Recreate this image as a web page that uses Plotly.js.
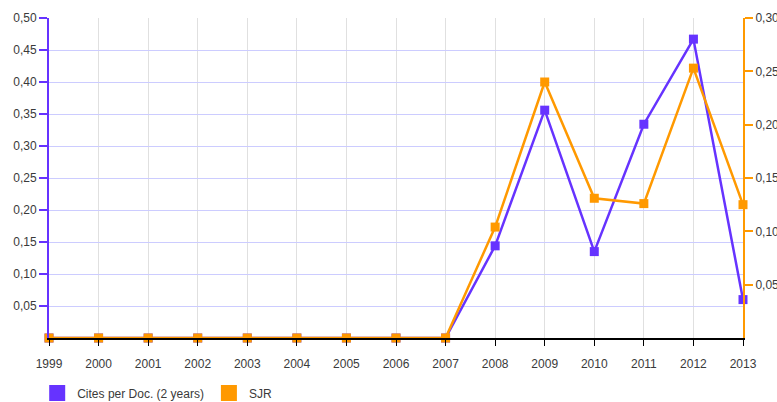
<!DOCTYPE html>
<html><head><meta charset="utf-8">
<script src="https://cdn.plot.ly/plotly-3.0.1.min.js"></script>
<style>body{margin:0;padding:0;background:#fff}#chart{width:777px;height:402px}</style>
</head><body><div id="chart"></div>
<script>
const years = [1999,2000,2001,2002,2003,2004,2005,2006,2007,2008,2009,2010,2011,2012,2013];
const citesPerDoc = [0,0,0,0,0,0,0,0,0,0.144,0.356,0.135,0.334,0.467,0.060];
const sjr = [0,0,0,0,0,0,0,0,0,0.104,0.240,0.131,0.126,0.253,0.125];
const leftTicks = [0.05,0.10,0.15,0.20,0.25,0.30,0.35,0.40,0.45,0.50];
const rightTicks = [0.05,0.10,0.15,0.20,0.25,0.30];
const purple = '#6633ff', orange = '#ff9900';
const fnt = {family:'"Liberation Sans", Arial, sans-serif', size:12, color:'#3a3a3a'};

const data = [
  {x: years, y: citesPerDoc, yaxis:'y', mode:'lines+markers', name:'Cites per Doc. (2 years)',
   line:{color:purple, width:2.5}, marker:{symbol:'square', size:9, color:purple}, showlegend:false, cliponaxis:false},
  {x: years, y: sjr, yaxis:'y2', mode:'lines+markers', name:'SJR',
   line:{color:orange, width:2.5}, marker:{symbol:'square', size:9, color:orange}, showlegend:false, cliponaxis:false},
  {x:[null], y:[null], mode:'markers', name:'Cites per Doc. (2 years)', marker:{symbol:'square', size:16, color:purple}},
  {x:[null], y:[null], mode:'markers', name:'SJR', marker:{symbol:'square', size:16, color:orange}}
];
const layout = {
  width:777, height:402, margin:{l:49, r:34, t:18, b:64, autoexpand:false},
  paper_bgcolor:'#fff', plot_bgcolor:'#fff', font:fnt, separators:',.',
  xaxis:{range:[1999,2013], tickvals:years, ticktext:years.map(String), showgrid:true, gridcolor:'#e0e0e0', gridwidth:1,
    showline:true, linecolor:'#000', linewidth:2, ticks:'outside', ticklen:6, tickcolor:'#000', tickwidth:1,
    ticklabelstandoff:8, zeroline:false, fixedrange:true, automargin:false},
  yaxis:{range:[0,0.5], tickvals:leftTicks, tickformat:'.2f', showgrid:true, gridcolor:'#ccccff', gridwidth:1, automargin:false,
    showline:true, linecolor:purple, linewidth:2, ticks:'outside', ticklen:8, tickcolor:purple, tickwidth:2, zeroline:false},
  yaxis2:{range:[0,0.3], overlaying:'y', side:'right', tickvals:rightTicks, tickformat:'.2f', showgrid:false, automargin:false,
    showline:true, linecolor:orange, linewidth:2, ticks:'outside', ticklen:8, tickcolor:orange, tickwidth:2, zeroline:false},
  legend:{orientation:'h', x:-0.017, xanchor:'left', yref:'container', y:0.0224, yanchor:'middle', font:fnt, itemwidth:30, traceorder:'normal'},
  showlegend:true
};
Plotly.newPlot('chart', data, layout, {displayModeBar:false, staticPlot:true});
</script></body></html>
